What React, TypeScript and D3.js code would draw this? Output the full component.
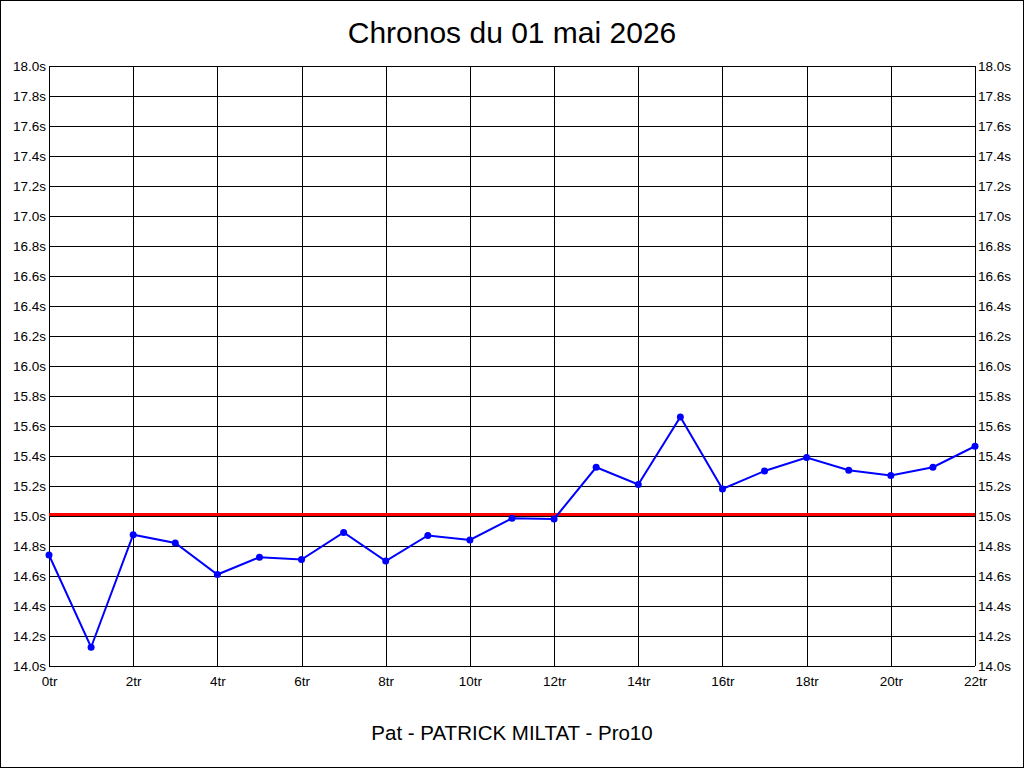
import { useEffect, useRef } from "react";
import * as d3 from "d3";

const title = "Chronos du 01 mai 2026";
const footer = "Pat - PATRICK MILTAT - Pro10";
const laps = d3.range(0, 23);
const times = [
  14.74, 14.125, 14.875, 14.82, 14.61, 14.725, 14.71, 14.89, 14.7, 14.87, 14.84, 14.985,
  14.98, 15.325, 15.21, 15.66, 15.18, 15.3, 15.39, 15.305, 15.27, 15.325, 15.465,
];
const average = 15.01;
const yTicks = d3.range(14, 18.001, 0.2);
const xTicks = d3.range(0, 23, 2);

export default function App() {
  const svgRef = useRef(null);

  useEffect(() => {
    const width = 1024;
    const height = 768;
    const margin = { top: 66, right: 49, bottom: 102, left: 49 };
    const font = "Arial, 'Liberation Sans', sans-serif";

    const svg = d3.select(svgRef.current);
    svg.selectAll("*").remove();

    svg.append("rect")
      .attr("x", 0.5).attr("y", 0.5)
      .attr("width", width - 1).attr("height", height - 1)
      .attr("fill", "#fff").attr("stroke", "#000");

    const x = d3.scaleLinear().domain([0, 22]).range([margin.left, width - margin.right]);
    const y = d3.scaleLinear().domain([14, 18]).range([height - margin.bottom, margin.top]);

    const g = svg.append("g").attr("shape-rendering", "crispEdges");

    // grid
    g.selectAll("line.hgrid")
      .data(yTicks)
      .enter()
      .append("line")
      .attr("class", "hgrid")
      .attr("x1", x(0)).attr("x2", x(22))
      .attr("y1", (d) => Math.round(y(d)) + 0.5)
      .attr("y2", (d) => Math.round(y(d)) + 0.5)
      .attr("stroke", "#000");

    g.selectAll("line.vgrid")
      .data(xTicks)
      .enter()
      .append("line")
      .attr("class", "vgrid")
      .attr("x1", (d) => Math.round(x(d)) + 0.5)
      .attr("x2", (d) => Math.round(x(d)) + 0.5)
      .attr("y1", y(18)).attr("y2", y(14))
      .attr("stroke", "#000");

    // axes
    const fmtY = (d: number) => d.toFixed(1) + "s";
    const yLeft = d3.axisLeft(y).tickValues(yTicks).tickFormat(fmtY as any).tickSize(0).tickPadding(3);
    const yRight = d3.axisRight(y).tickValues(yTicks).tickFormat(fmtY as any).tickSize(0).tickPadding(3);
    const xBottom = d3.axisBottom(x).tickValues(xTicks).tickFormat((d: any) => d + "tr").tickSize(4).tickPadding(6);

    const styleAxis = (sel: any) => {
      sel.select(".domain").remove();
      sel.selectAll(".tick line").remove();
      sel.selectAll("text").attr("font-family", font).attr("font-size", 13.5).attr("fill", "#000");
    };

    svg.append("g")
      .attr("transform", `translate(${margin.left},0)`)
      .call(yLeft)
      .call(styleAxis);
    svg.append("g")
      .attr("transform", `translate(${width - margin.right},0)`)
      .call(yRight)
      .call(styleAxis);
    svg.append("g")
      .attr("transform", `translate(0,${height - margin.bottom})`)
      .call(xBottom)
      .call(styleAxis);

    // average line
    svg.append("line")
      .attr("x1", x(0)).attr("x2", x(22))
      .attr("y1", y(average)).attr("y2", y(average))
      .attr("stroke", "#ff0000").attr("stroke-width", 3);

    // series
    const line = d3.line<number>()
      .x((d, i) => x(laps[i]))
      .y((d) => y(d));

    svg.append("path")
      .datum(times)
      .attr("d", line)
      .attr("fill", "none")
      .attr("stroke", "#0000ff")
      .attr("stroke-width", 2);

    svg.selectAll("circle.pt")
      .data(times)
      .enter()
      .append("circle")
      .attr("class", "pt")
      .attr("cx", (d, i) => x(laps[i]))
      .attr("cy", (d) => y(d))
      .attr("r", 3.5)
      .attr("fill", "#0000ff");

    svg.append("text")
      .attr("x", width / 2).attr("y", 43)
      .attr("text-anchor", "middle")
      .attr("font-family", font).attr("font-size", 30)
      .text(title);

    svg.append("text")
      .attr("x", width / 2).attr("y", 740)
      .attr("text-anchor", "middle")
      .attr("font-family", font).attr("font-size", 20.5)
      .text(footer);
  }, []);

  return (
    <svg
      ref={svgRef}
      width={1024}
      height={768}
      style={{ position: "absolute", left: 0, top: 0, display: "block" }}
    ></svg>
  );
}
